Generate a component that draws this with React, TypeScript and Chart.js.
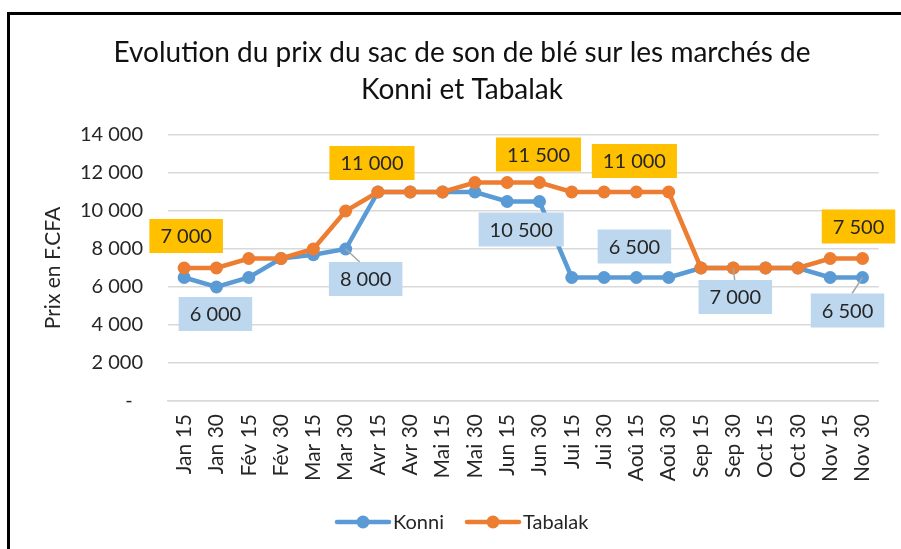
import React, { useEffect, useRef } from "react";
import { Chart, registerables } from "chart.js";

Chart.register(...registerables);

const categories = [
  "Jan 15", "Jan 30", "Fév 15", "Fév 30", "Mar 15", "Mar 30", "Avr 15", "Avr 30",
  "Mai 15", "Mai 30", "Jun 15", "Jun 30", "Jui 15", "Jui 30", "Aoû 15", "Aoû 30",
  "Sep 15", "Sep 30", "Oct 15", "Oct 30", "Nov 15", "Nov 30",
];

const konni = [
  6500, 6000, 6500, 7500, 7700, 8000, 11000, 11000, 11000, 11000, 10500, 10500,
  6500, 6500, 6500, 6500, 7000, 7000, 7000, 7000, 6500, 6500,
];

const tabalak = [
  7000, 7000, 7500, 7500, 8000, 10000, 11000, 11000, 11000, 11500, 11500, 11500,
  11000, 11000, 11000, 11000, 7000, 7000, 7000, 7000, 7500, 7500,
];

const titleLines = [
  "Evolution du prix du sac de son de blé sur les marchés de",
  "Konni et Tabalak",
];

const seriesNames = ["Konni", "Tabalak"];
const yTitle = "Prix en F.CFA";

// points that carry a value label
const labelledKonni = [1, 5, 10, 14, 17, 21];
const labelledTabalak = [0, 6, 11, 14, 21];

const BLUE = "#5B9BD5";
const ORANGE = "#ED7D31";
const FONT = "Lato, 'Liberation Sans', Arial, sans-serif";
const TEXT = "#262626";

const fmt = (v: number) => {
  if (v === 0) return "-  ";
  const s = String(Math.round(v));
  return s.replace(/\B(?=(\d{3})+(?!\d))/g, " ");
};

// label placement (offsets from the point, leader line flag)
const labelStyle: Record<string, { dx: number; dy: number; leader?: boolean }> = {
  "0-1": { dx: -1, dy: 27 },
  "0-5": { dx: 20, dy: 30, leader: true },
  "0-10": { dx: 14, dy: 28 },
  "0-14": { dx: -2, dy: -31 },
  "0-17": { dx: 2, dy: 29, leader: true },
  "0-21": { dx: -15, dy: 33, leader: true },
  "1-0": { dx: 2, dy: -32 },
  "1-6": { dx: -6, dy: -29 },
  "1-11": { dx: -1, dy: -28 },
  "1-14": { dx: -2, dy: -31 },
  "1-21": { dx: -4, dy: -32 },
};

const labelsPlugin = {
  id: "boxLabels",
  afterDatasetsDraw(chart: any) {
    const ctx = chart.ctx;
    const sets: [number, number[], string][] = [
      [0, labelledKonni, "#BDD7EE"],
      [1, labelledTabalak, "#FFC000"],
    ];
    ctx.save();
    ctx.font = `20px ${FONT}`;
    for (const [ds, idxs, bg] of sets) {
      const meta = chart.getDatasetMeta(ds);
      const data = chart.data.datasets[ds].data as number[];
      for (const i of idxs) {
        const pt = meta.data[i];
        const st = labelStyle[`${ds}-${i}`];
        const cx = pt.x + st.dx;
        const cy = pt.y + st.dy;
        const text = fmt(data[i]);
        const w = ctx.measureText(text).width + 22;
        const h = 34;
        if (st.leader) {
          ctx.strokeStyle = "#A6A6A6";
          ctx.lineWidth = 1.5;
          ctx.beginPath();
          ctx.moveTo(pt.x, pt.y);
          const ty = st.dy > 0 ? cy - h / 2 : cy + h / 2;
          const tx = cx + 0.3 * (pt.x - cx);
          ctx.lineTo(tx, ty);
          ctx.stroke();
        }
        ctx.fillStyle = bg;
        ctx.fillRect(cx - w / 2, cy - h / 2, w, h);
        ctx.fillStyle = TEXT;
        ctx.textAlign = "center";
        ctx.textBaseline = "middle";
        ctx.fillText(text, cx, cy + 1);
      }
    }
    ctx.restore();
  },
};

const decorPlugin = {
  id: "decor",
  afterDraw(chart: any) {
    const ctx = chart.ctx;
    ctx.save();
    // title
    ctx.fillStyle = "#111";
    ctx.textAlign = "center";
    ctx.textBaseline = "middle";
    ctx.font = `28px ${FONT}`;
    ctx.fillText(titleLines[0], 462, 53);
    ctx.fillText(titleLines[1], 462, 90);
    // legend
    const colors = [BLUE, ORANGE];
    const starts = [337, 467];
    const y = 522;
    ctx.font = `20px ${FONT}`;
    ctx.textAlign = "left";
    for (let k = 0; k < 2; k++) {
      const x0 = starts[k];
      ctx.strokeStyle = colors[k];
      ctx.lineWidth = 4.5;
      ctx.lineCap = "round";
      ctx.beginPath();
      ctx.moveTo(x0, y);
      ctx.lineTo(x0 + 52, y);
      ctx.stroke();
      ctx.fillStyle = colors[k];
      ctx.beginPath();
      ctx.arc(x0 + 26, y, 6.5, 0, Math.PI * 2);
      ctx.fill();
      ctx.fillStyle = TEXT;
      ctx.fillText(seriesNames[k], x0 + 56, y + 1);
    }
    ctx.restore();
  },
};

export default function App() {
  const ref = useRef<HTMLCanvasElement | null>(null);

  useEffect(() => {
    if (!ref.current) return;
    const chart = new Chart(ref.current, {
      type: "line",
      data: {
        labels: categories,
        datasets: [
          {
            label: seriesNames[0],
            data: konni,
            borderColor: BLUE,
            backgroundColor: BLUE,
            pointBackgroundColor: BLUE,
            pointBorderWidth: 0,
            pointRadius: 6.5,
            borderWidth: 4.5,
            tension: 0,
            order: 2,
          },
          {
            label: seriesNames[1],
            data: tabalak,
            borderColor: ORANGE,
            backgroundColor: ORANGE,
            pointBackgroundColor: ORANGE,
            pointBorderWidth: 0,
            pointRadius: 6.5,
            borderWidth: 4.5,
            tension: 0,
            order: 1,
          },
        ],
      },
      options: {
        responsive: false,
        animation: false,
        devicePixelRatio: 1,
        layout: { padding: { left: 0, top: 135, right: 13, bottom: 48 } },
        plugins: {
          legend: { display: false },
          title: { display: false },
          tooltip: { enabled: false },
        },
        scales: {
          x: {
            offset: true,
            grid: { display: false, drawTicks: false },
            border: { display: true, color: "#D9D9D9", width: 1.5 },
            ticks: {
              autoSkip: false,
              maxRotation: 90,
              minRotation: 90,
              padding: 13,
              color: TEXT,
              font: { family: FONT, size: 21 },
            },
            afterFit: (s: any) => {
              s.height = 100;
            },
          },
          y: {
            min: 0,
            max: 14000,
            ticks: {
              stepSize: 2000,
              padding: 25,
              color: TEXT,
              font: { family: FONT, size: 20 },
              callback: (v: any) => fmt(Number(v)),
            },
            grid: { color: "#D9D9D9", lineWidth: 1.5, drawTicks: false },
            border: { display: false },
            title: {
              display: true,
              text: yTitle,
              color: TEXT,
              font: { family: FONT, size: 21 },
              padding: { top: 41, bottom: 0 },
            },
            afterFit: (s: any) => {
              s.width = 168;
            },
          },
        },
      },
      plugins: [labelsPlugin, decorPlugin],
    });
    return () => chart.destroy();
  }, []);

  return (
    <div
      style={{
        position: "absolute",
        left: 0,
        top: 0,
        width: 901,
        height: 549,
        overflow: "hidden",
        background: "#fff",
      }}
    >
      <canvas ref={ref} width={901} height={549} style={{ display: "block" }} />
      <div
        style={{
          position: "absolute",
          left: 7,
          top: 12,
          width: 920,
          height: 560,
          border: "3px solid #000",
          pointerEvents: "none",
        }}
      />
    </div>
  );
}
